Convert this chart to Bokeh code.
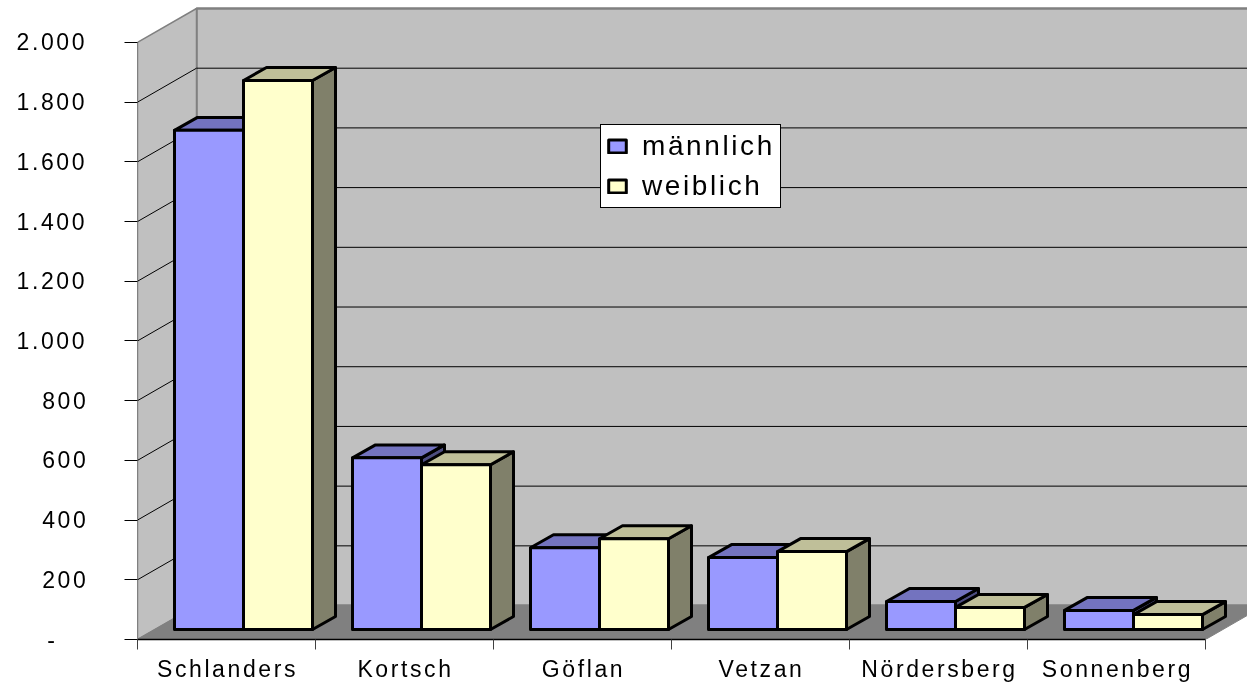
from bokeh.embed import file_html
from bokeh.resources import INLINE
from bokeh.plotting import figure
from bokeh.models import Range1d, LinearAxis, FixedTicker, Legend, LegendItem

categories = ["Schlanders", "Kortsch", "Göflan", "Vetzan", "Nördersberg", "Sonnenberg"]
maennlich = [1672, 575, 274, 241, 94, 64]
weiblich = [1839, 552, 304, 261, 74, 50]
y_ticks = [0, 200, 400, 600, 800, 1000, 1200, 1400, 1600, 1800, 2000]
y_labels = ["-\u00a0\u00a0\u00a0\u00a0", "200", "400", "600", "800", "1.000\u00a0", "1.200\u00a0", "1.400\u00a0", "1.600\u00a0", "1.800\u00a0", "2.000\u00a0"]

# page geometry, in pixels
PX_X = 178.0            # one category
PX_Y = 598.0 / 2000.0   # one value unit
W, H = 1247, 684
FRAME_L, FRAME_H = 137, 640
FRAME_W = W - FRAME_L
LETTER_SPACING = 2.6

def ux(px): return px / PX_X
def uy(px): return px / PX_Y

WALL_DX, WALL_DY = ux(59), uy(34)
BASE_DX, BASE_DY = ux(17), uy(10)
SIDE_DX, SIDE_DY = ux(23), uy(13)
BAR_W = ux(69)
GAP = (1 - 2 * BAR_W) / 2
YMAX = y_ticks[-1]
NCAT = len(categories)

p = figure(width=W, height=H, output_backend="svg", toolbar_location=None,
           x_range=Range1d(0, FRAME_W / PX_X), y_range=Range1d(0, FRAME_H / PX_Y),
           x_axis_type=None, y_axis_type=None,
           min_border_left=FRAME_L, min_border_right=0, min_border_top=0, min_border_bottom=H - FRAME_H)
p.outline_line_color = None
p.grid.visible = False
p.background_fill_color = "#ffffff"
p.border_fill_color = "#ffffff"
p.stylesheets = [":host { letter-spacing: %spx; }" % LETTER_SPACING]
p.styles = {"position": "fixed", "left": "0px", "top": "0px"}

WALL = "#c0c0c0"
EDGE = "#808080"
top_y = YMAX + WALL_DY
xr_end = NCAT + WALL_DX

# back wall, side wall, floor
p.patch([WALL_DX, xr_end, xr_end, WALL_DX], [WALL_DY, WALL_DY, top_y, top_y],
        fill_color=WALL, line_color=EDGE, line_width=2.5)
p.patch([0, WALL_DX, WALL_DX, 0], [0, WALL_DY, YMAX + WALL_DY, YMAX],
        fill_color=WALL, line_color=EDGE, line_width=1.5)
p.patch([0, NCAT, xr_end, WALL_DX], [0, 0, WALL_DY, WALL_DY],
        fill_color=EDGE, line_color=EDGE, line_width=1)

# gridlines, on side wall and back wall
inner = [t for t in y_ticks if 0 < t < YMAX]
p.multi_line([[0, WALL_DX, xr_end] for t in inner], [[t, t + WALL_DY, t + WALL_DY] for t in inner],
             line_color="#000000", line_width=1)


def faces(values, offset):
    front_x, front_y, top_x, top_y_, side_x, side_y = [], [], [], [], [], []
    for i, v in enumerate(values):
        x0 = i + GAP + BASE_DX + offset
        x1 = x0 + BAR_W
        b = BASE_DY
        t = BASE_DY + v
        front_x.append([x0, x1, x1, x0]); front_y.append([b, b, t, t])
        top_x.append([x0, x1, x1 + SIDE_DX, x0 + SIDE_DX]); top_y_.append([t, t, t + SIDE_DY, t + SIDE_DY])
        side_x.append([x1, x1 + SIDE_DX, x1 + SIDE_DX, x1]); side_y.append([b, b + SIDE_DY, t + SIDE_DY, t])
    return front_x, front_y, top_x, top_y_, side_x, side_y


BL = dict(line_color="#000000", line_width=3, line_join="round")
fx, fy, tx, ty, sx, sy = faces(maennlich, 0)
p.patches(sx, sy, fill_color="#4d4d80", **BL)
p.patches(tx, ty, fill_color="#7373bf", **BL)
r_m = p.patches(fx, fy, fill_color="#9999ff", **BL)
fx, fy, tx, ty, sx, sy = faces(weiblich, BAR_W)
p.patches(sx, sy, fill_color="#80806a", **BL)
p.patches(tx, ty, fill_color="#bfbf99", **BL)
r_w = p.patches(fx, fy, fill_color="#ffffcc", **BL)

FONT = "Liberation Sans"
ax_l = LinearAxis(ticker=FixedTicker(ticks=y_ticks), bounds=(0, YMAX))
ax_l.major_label_overrides = dict(zip(y_ticks, y_labels))
ax_l.major_label_text_font = FONT
ax_l.major_label_text_font_size = "23px"
ax_l.major_label_text_color = "#000000"
ax_l.major_label_standoff = 44
ax_l.major_tick_in = 0
ax_l.major_tick_out = 13
ax_l.major_tick_line_color = "#000000"
ax_l.minor_tick_line_color = None
ax_l.axis_line_color = EDGE
p.add_layout(ax_l, "left")

# labels are laid out by their measured width, so move each back by half its letter spacing
centers = [round(i + 0.5 + ux(1 - len(c) * LETTER_SPACING / 2), 4) for i, c in enumerate(categories)]
ax_b = LinearAxis(ticker=FixedTicker(ticks=centers, minor_ticks=list(range(NCAT + 1))), bounds=(0, NCAT))
ax_b.major_label_overrides = dict(zip(centers, categories))
ax_b.major_label_text_font = FONT
ax_b.major_label_text_font_size = "23px"
ax_b.major_label_text_color = "#000000"
ax_b.major_label_standoff = 6
ax_b.major_tick_in = 0
ax_b.major_tick_out = 0
ax_b.major_tick_line_color = None
ax_b.minor_tick_in = 0
ax_b.minor_tick_out = 10
ax_b.minor_tick_line_color = "#404040"
ax_b.axis_line_color = "#000000"
ax_b.axis_line_width = 1.5
p.add_layout(ax_b, "below")

legend = Legend(items=[LegendItem(label="männlich", renderers=[r_m]),
                       LegendItem(label="weiblich", renderers=[r_w])],
                location=(463, 431), orientation="vertical",
                label_text_font=FONT, label_text_font_size="28px", label_text_color="#000000",
                label_height=20, label_width=131, label_standoff=14,
                glyph_width=22, glyph_height=16, spacing=8, padding=5, margin=0,
                background_fill_color="#ffffff", background_fill_alpha=1,
                border_line_color="#000000", border_line_alpha=1, border_line_width=1.5)
p.add_layout(legend)

open("out.html", "w").write(file_html(p, INLINE))
